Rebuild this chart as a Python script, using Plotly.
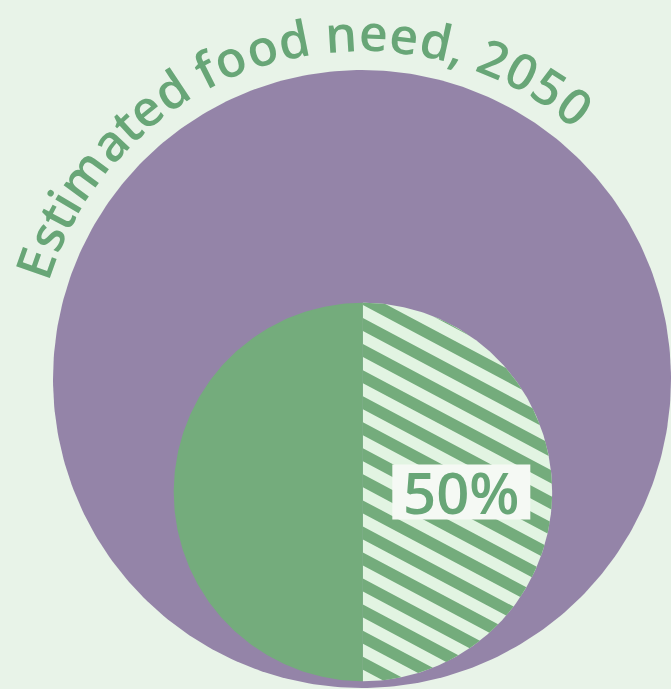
import numpy as np
import plotly.graph_objects as go

# ---------------- data ----------------
circle_labels = ["Estimated food need, 2050", "Food production today"]
circle_areas = [100.0, 37.5]          # relative areas (food need 2050 = 100)
split_labels = ["", "50%"]             # labels of the two halves of the inner circle
split_shares = [50, 50]                # solid share, hatched share (%)

# ---------------- style / layout ----------------
BG = "#e8f3e8"
PURPLE = "#9484a8"
GREEN = "#74ac7c"
LIGHT = "#e2f4e2"
TEXT_GREEN = "#68a677"
BOX = "#f5f9f4"
FONT = "Open Sans"

W, H = 671, 689
PX = 30.9                 # pixels per data unit
CX_PX, CY_PX = 362, 379   # outer circle centre in pixels
GAP = 0.22                # gap between the circles' bottoms (units)

R_out = np.sqrt(circle_areas[0])
R_in = np.sqrt(circle_areas[1])
in_cx, in_cy = 0.03, -(R_out - R_in - GAP)


def circle_pts(cx, cy, r, a0=0, a1=360, n=361):
    # angles clockwise from 12 o'clock, in degrees
    a = np.radians(np.linspace(a0, a1, n))
    return cx + r * np.sin(a), cy + r * np.cos(a)


fig = go.Figure()

# outer circle
ox, oy = circle_pts(0, 0, R_out)
fig.add_trace(go.Scatter(x=ox, y=oy, fill="toself", fillcolor=PURPLE, mode="lines",
                         line=dict(width=0, color=PURPLE), hoverinfo="skip",
                         name=circle_labels[0]))

# inner circle: solid part and hatched part (pie-like split, starting at 12 o'clock)
hatch_deg = 360 * split_shares[1] / 100.0
sx, sy = circle_pts(in_cx, in_cy, R_in, hatch_deg, 360, 241)
sx = np.r_[in_cx, sx, in_cx]
sy = np.r_[in_cy, sy, in_cy]
fig.add_trace(go.Scatter(x=sx, y=sy, fill="toself", fillcolor=GREEN, mode="lines",
                         line=dict(width=0, color=GREEN), hoverinfo="skip",
                         name=circle_labels[1]))

hx, hy = circle_pts(in_cx, in_cy, R_in, 0, hatch_deg, 241)
hx = np.r_[in_cx, hx, in_cx]
hy = np.r_[in_cy, hy, in_cy]
fig.add_trace(go.Scatter(x=hx, y=hy, fill="toself", fillcolor=LIGHT, mode="lines",
                         line=dict(width=0, color=LIGHT), hoverinfo="skip",
                         showlegend=False))

# stripes (clipped to the hatched sector)
theta = np.radians(28)
nvec = np.array([np.sin(theta), np.cos(theta)])
period = 23 / PX
white_w = 0.5 * period
phase = 4.97


def clip(poly, n, c, ge=True):
    out = []
    m = len(poly)
    for i in range(m):
        p, q = poly[i], poly[(i + 1) % m]
        fp = np.dot(n, p) - c
        fq = np.dot(n, q) - c
        if not ge:
            fp, fq = -fp, -fq
        if fp >= 0:
            out.append(p)
        if (fp >= 0) != (fq >= 0):
            t = fp / (fp - fq)
            out.append(p + t * (q - p))
    return out


sector = [np.array([a - in_cx, b - in_cy]) for a, b in zip(hx[:-1], hy[:-1])]
stx, sty = [], []
for k in range(-20, 21):
    lo = phase + k * period + white_w
    hi = phase + (k + 1) * period
    poly = clip(sector, nvec, lo, True)
    if len(poly) < 3:
        continue
    poly = clip(poly, nvec, hi, False)
    if len(poly) < 3:
        continue
    for p in poly:
        stx.append(p[0] + in_cx)
        sty.append(p[1] + in_cy)
    stx.append(poly[0][0] + in_cx)
    sty.append(poly[0][1] + in_cy)
    stx.append(None)
    sty.append(None)
fig.add_trace(go.Scatter(x=stx, y=sty, fill="toself", fillcolor=GREEN, mode="lines",
                         line=dict(width=0, color=GREEN), hoverinfo="skip",
                         connectgaps=False, showlegend=False))

# ---------------- curved title along the outer circle ----------------
adv = {" ": 532, ",": 502, "E": 1147, "a": 1139, "d": 1255, "e": 1149, "f": 694,
       "i": 518, "m": 1905, "n": 1257, "o": 1237, "s": 977, "t": 719}
title = circle_labels[0]
widths = [adv.get(ch, 1171) for ch in title]
total = float(sum(widths))
start_deg, end_deg = -73.0, 40.6
r_text = (328 + 19) / PX
annotations = []
cum = 0.0
for ch, w in zip(title, widths):
    frac = (cum + w / 2.0) / total
    cum += w
    if ch == " ":
        continue
    phi = start_deg + frac * (end_deg - start_deg)
    pr = np.radians(phi)
    annotations.append(dict(
        x=r_text * np.sin(pr), y=r_text * np.cos(pr), text=ch, showarrow=False,
        textangle=phi, xanchor="center", yanchor="middle",
        font=dict(family=FONT, size=50, color=TEXT_GREEN, weight=600)))

# ---------------- "50%" label with white box ----------------
lx, ly = in_cx + 0.52 * R_in, in_cy
bw, bh = 138 / PX, 55 / PX
shapes = [dict(type="rect", xref="x", yref="y", x0=lx - bw / 2, x1=lx + bw / 2,
               y0=ly - bh / 2, y1=ly + bh / 2, fillcolor=BOX, line=dict(width=0),
               layer="above")]
annotations.append(dict(x=lx, y=ly, text=split_labels[1], showarrow=False,
                        xanchor="center", yanchor="middle",
                        font=dict(family=FONT, size=58, color=TEXT_GREEN, weight=600)))

fig.update_layout(
    width=W, height=H, margin=dict(l=0, r=0, t=0, b=0),
    paper_bgcolor=BG, plot_bgcolor=BG, showlegend=False,
    xaxis=dict(range=[-CX_PX / PX, (W - CX_PX) / PX], visible=False, fixedrange=True),
    yaxis=dict(range=[-(H - CY_PX) / PX, CY_PX / PX], visible=False, fixedrange=True),
    annotations=annotations, shapes=shapes,
)

fig.write_html("out.html", config={"displayModeBar": False},
               post_script="document.body.style.margin='0';document.body.style.background='" + BG + "';")
